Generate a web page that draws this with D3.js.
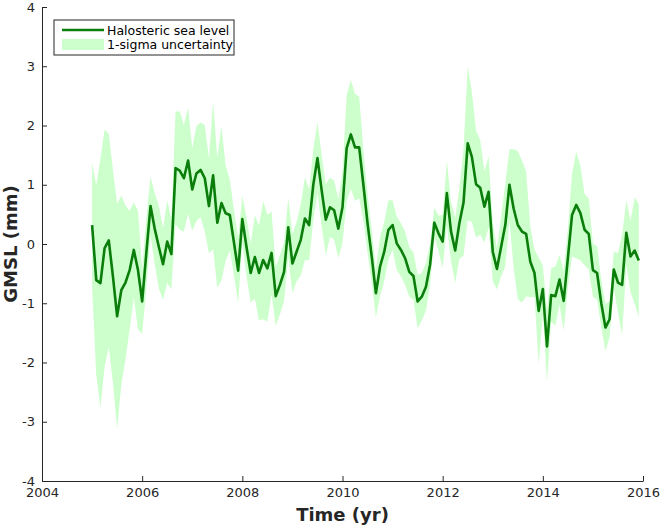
<!DOCTYPE html>
<html>
<head>
<meta charset="utf-8">
<script src="https://cdn.jsdelivr.net/npm/d3@7/dist/d3.min.js"></script>
<style>
  body { margin: 0; background: #fff; }
  text { font-family: "DejaVu Sans", sans-serif; }
</style>
</head>
<body>
<div id="vis-holder"></div>
<script>
// Monthly halosteric GMSL (mm), Jan 2005 .. Dec 2015
const startYear = 2005;
const gmsl = [
  0.32, -0.61, -0.66, -0.07, 0.06, -0.55, -1.22, -0.78, -0.65, -0.44, -0.10, -0.44,
  -0.97, -0.15, 0.64, 0.26, -0.05, -0.34, 0.04, -0.17, 1.28, 1.24, 1.11, 1.41,
  0.92, 1.19, 1.25, 1.11, 0.64, 1.16, 0.36, 0.69, 0.52, 0.49, 0.02, -0.45,
  0.42, -0.05, -0.49, -0.22, -0.49, -0.27, -0.41, -0.15, -0.88, -0.69, -0.47, 0.28,
  -0.33, -0.13, 0.07, 0.43, 0.32, 1.00, 1.45, 0.91, 0.41, 0.62, 0.57, 0.26,
  0.62, 1.62, 1.85, 1.63, 1.63, 1.00, 0.35, -0.21, -0.83, -0.38, -0.13, 0.24,
  0.32, 0.01, -0.10, -0.24, -0.47, -0.54, -0.97, -0.89, -0.72, -0.34, 0.36, 0.18,
  0.04, 0.86, 0.21, -0.11, 0.35, 0.70, 1.70, 1.47, 1.01, 0.95, 0.63, 0.88,
  -0.13, -0.42, -0.05, 0.32, 1.00, 0.60, 0.32, 0.21, 0.17, -0.30, -0.49, -1.13,
  -0.76, -1.73, -0.86, -0.88, -0.60, -0.96, -0.24, 0.49, 0.66, 0.52, 0.24, 0.17,
  -0.44, -0.49, -1.00, -1.41, -1.27, -0.43, -0.65, -0.69, 0.19, -0.21, -0.11, -0.28
];
// 1-sigma uncertainty (mm)
const sigma = [
  1.05, 1.6, 2.1, 2.0, 1.8, 1.8, 1.9, 1.6, 1.3, 1.0, 0.8, 1.0,
  0.55, 0.6, 0.5, 0.6, 0.7, 0.6, 0.7, 0.6, 0.95, 1.0, 0.9, 0.9,
  0.7, 0.8, 0.8, 0.9, 0.8, 1.25, 1.1, 1.3, 0.8, 0.6, 0.55, 0.55,
  0.4, 0.5, 0.5, 0.7, 0.8, 1.0, 0.9, 0.7, 0.5, 0.5, 0.5, 0.5,
  0.5, 0.5, 0.6, 0.7, 0.6, 0.6, 0.6, 0.6, 0.6, 0.5, 0.5, 0.5,
  0.6, 0.9, 0.92, 0.9, 0.86, 0.6, 0.5, 0.45, 0.4, 0.5, 0.5, 0.5,
  0.42, 0.45, 0.45, 0.45, 0.42, 0.4, 0.45, 0.4, 0.4, 0.35, 0.25, 0.3,
  0.45, 0.55, 0.5, 0.55, 0.6, 0.9, 1.3, 1.1, 0.9, 0.8, 0.6, 0.6,
  0.5, 0.35, 0.5, 0.7, 0.6, 1.0, 1.25, 1.2, 1.05, 0.6, 0.4, 0.9,
  0.4, 0.6, 0.45, 0.5, 0.42, 0.5, 0.5, 0.7, 0.9, 0.8, 0.6, 0.6,
  0.45, 0.45, 0.4, 0.4, 0.3, 0.3, 0.5, 0.85, 0.55, 0.6, 0.9, 0.95
];
const xTicks = [2004, 2006, 2008, 2010, 2012, 2014, 2016];
const yTicks = [-4, -3, -2, -1, 0, 1, 2, 3, 4];

const width = 660;
const height = 527;
const margin = { top: 7, right: 17, bottom: 46, left: 42 };
const axisColor = "#262626";

const data = gmsl.map((v, i) => ({ t: startYear + i / 12, v: v, s: sigma[i] }));

const svg = d3.select("#vis-holder")
  .append("svg")
  .attr("width", width)
  .attr("height", height);

const x = d3.scaleLinear()
  .domain([2004, 2016])
  .range([margin.left, width - margin.right]);

const y = d3.scaleLinear()
  .domain([-4, 4])
  .range([height - margin.bottom, margin.top]);

// uncertainty band
svg.append("path")
  .datum(data)
  .attr("fill", "#ccffcc")
  .attr("d", d3.area()
    .x(d => x(d.t))
    .y0(d => y(d.v - d.s))
    .y1(d => y(d.v + d.s)));

// sea level line
svg.append("path")
  .datum(data)
  .attr("fill", "none")
  .attr("stroke", "#0a7d0a")
  .attr("stroke-width", 2.6)
  .attr("stroke-linejoin", "round")
  .attr("d", d3.line()
    .x(d => x(d.t))
    .y(d => y(d.v)));

// x axis
svg.append("g")
  .attr("transform", `translate(0,${height - margin.bottom})`)
  .call(d3.axisBottom(x).tickValues(xTicks).tickFormat(d3.format("d"))
    .tickSizeInner(-5).tickSizeOuter(0).tickPadding(7))
  .call(g => {
    g.selectAll("path, line").attr("stroke", axisColor);
    g.selectAll("text").attr("fill", axisColor).attr("font-size", "13px")
      .attr("font-family", "DejaVu Sans, sans-serif");
  });

// y axis
svg.append("g")
  .attr("transform", `translate(${margin.left},0)`)
  .call(d3.axisLeft(y).tickValues(yTicks).tickFormat(d => String(d))
    .tickSizeInner(-5).tickSizeOuter(0).tickPadding(7))
  .call(g => {
    g.selectAll("path, line").attr("stroke", axisColor);
    g.selectAll("text").attr("fill", axisColor).attr("font-size", "13px")
      .attr("font-family", "DejaVu Sans, sans-serif");
  });

// axis labels
svg.append("text")
  .attr("x", (x(2004) + x(2016)) / 2)
  .attr("y", 521)
  .attr("text-anchor", "middle")
  .attr("font-size", "18px")
  .attr("font-weight", "bold")
  .attr("fill", axisColor)
  .text("Time (yr)");

svg.append("text")
  .attr("transform", `translate(17,${y(0)}) rotate(-90)`)
  .attr("text-anchor", "middle")
  .attr("font-size", "18px")
  .attr("font-weight", "bold")
  .attr("fill", axisColor)
  .text("GMSL (mm)");

// legend
const legend = svg.append("g").attr("transform", "translate(54,20)");
legend.append("rect")
  .attr("width", 180).attr("height", 35)
  .attr("fill", "#fff").attr("stroke", axisColor).attr("stroke-width", 1);
legend.append("line")
  .attr("x1", 8).attr("x2", 50).attr("y1", 10).attr("y2", 10)
  .attr("stroke", "#0a7d0a").attr("stroke-width", 2.6);
legend.append("rect")
  .attr("x", 8).attr("y", 19).attr("width", 42).attr("height", 11)
  .attr("fill", "#ccffcc");
legend.selectAll(".lbl")
  .data(["Halosteric sea level", "1-sigma uncertainty"])
  .enter()
  .append("text")
  .attr("x", 53)
  .attr("y", (d, i) => 14.5 + i * 14)
  .attr("font-size", "12.5px")
  .attr("fill", "#000")
  .text(d => d);
</script>
</body>
</html>
